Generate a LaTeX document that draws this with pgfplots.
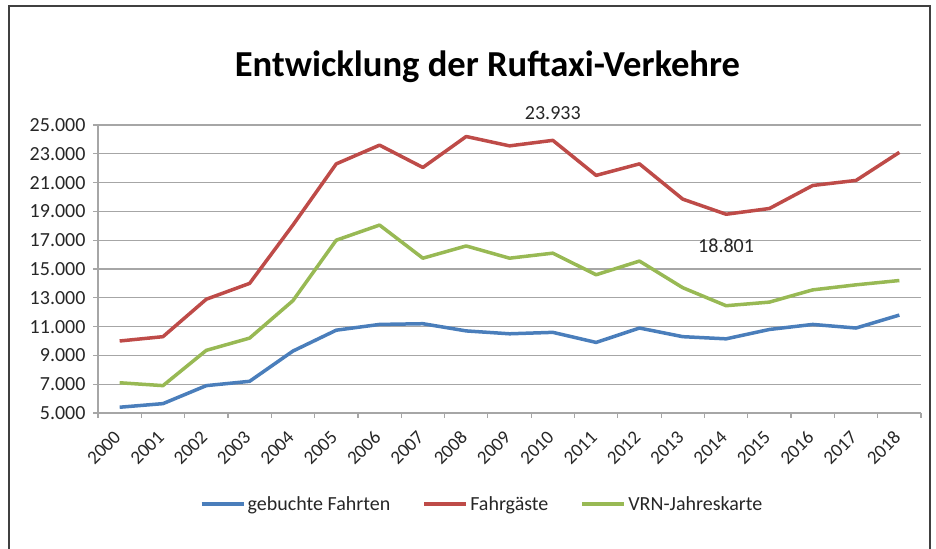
\documentclass[border=0pt]{standalone}
\usepackage{pgfplots}
\pgfplotsset{compat=1.18}
\usepackage{fontspec}
\setmainfont{Carlito}
\definecolor{cblue}{HTML}{4A7EBB}
\definecolor{cred}{HTML}{BE4B48}
\definecolor{cgreen}{HTML}{98B954}
\definecolor{gridc}{HTML}{A6A6A6}
\definecolor{txt}{HTML}{262626}
\begin{document}
\begin{tikzpicture}[x=1bp,y=1bp]
\useasboundingbox (0,0) rectangle (936,549);
\draw[line width=2.2bp, color=black!75] (9,-3) -- (9,543) -- (930,543) -- (930,-3);
\node[anchor=base, font=\fontsize{36.6bp}{40bp}\selectfont\bfseries, text=black] at (487.5,472) {Entwicklung der Ruftaxi-Verkehre};
\begin{axis}[
  at={(98bp,136bp)}, anchor=south west,
  scale only axis, width=823bp, height=288bp,
  xmin=-0.5, xmax=18.5, ymin=5000, ymax=25000,
  scaled y ticks=false,
  axis x line=bottom, axis y line=left,
  axis line style={-, gridc, line width=1.2bp},
  xtick={0,1,...,18},
  xticklabels={2000,2001,2002,2003,2004,2005,2006,2007,2008,2009,2010,2011,2012,2013,2014,2015,2016,2017,2018},
  minor xtick={-0.5,0.5,...,18.5},
  major x tick style={draw=none},
  minor x tick style={gridc, line width=1.2bp},
  y tick style={gridc, line width=1.2bp},
  tick align=outside, major tick length=5bp, minor tick length=5bp,
  ytick={5000,7000,...,25000},
  yticklabels={5.000,7.000,9.000,11.000,13.000,15.000,17.000,19.000,21.000,23.000,25.000},
  ymajorgrids, grid style={gridc, line width=1.2bp},
  tick label style={font=\fontsize{20bp}{24bp}\selectfont, text=txt},
  yticklabel style={xshift=-4bp},
  xticklabel style={font=\fontsize{19bp}{22bp}\selectfont, inner sep=1.5bp, xshift=-1bp, yshift=-15bp, rotate=45, anchor=east},
  legend columns=3,
  legend style={draw=none, fill=none, at={(0.4666,-0.316)}, anchor=center,
    font=\fontsize{20bp}{24bp}\selectfont, text=txt,
    nodes={inner sep=2bp},
    /tikz/every even column/.append style={column sep=30bp}},
  legend image code/.code={\draw[#1, line width=4bp] (0bp,0bp) -- (42bp,0bp);},
  clip=false,
]
\addplot[cblue, line width=3.5bp, line join=round] coordinates {
(0,5400) (1,5650) (2,6900) (3,7200) (4,9300) (5,10750) (6,11150) (7,11200) (8,10700) (9,10500)
(10,10600) (11,9900) (12,10900) (13,10300) (14,10150) (15,10800) (16,11150) (17,10900) (18,11800)};
\addlegendentry{gebuchte Fahrten}
\addplot[cred, line width=3.5bp, line join=round] coordinates {
(0,10000) (1,10300) (2,12900) (3,14000) (4,18050) (5,22300) (6,23600) (7,22050) (8,24200) (9,23550)
(10,23933) (11,21500) (12,22300) (13,19850) (14,18801) (15,19200) (16,20800) (17,21150) (18,23100)};
\addlegendentry{Fahrgäste}
\addplot[cgreen, line width=3.5bp, line join=round] coordinates {
(0,7100) (1,6900) (2,9350) (3,10200) (4,12800) (5,17000) (6,18050) (7,15750) (8,16600) (9,15750)
(10,16100) (11,14600) (12,15550) (13,13700) (14,12450) (15,12700) (16,13550) (17,13900) (18,14200)};
\addlegendentry{VRN-Jahreskarte}
\node[font=\fontsize{20bp}{24bp}\selectfont, text=txt] at (axis cs:10,25833) {23.933};
\node[font=\fontsize{20bp}{24bp}\selectfont, text=txt] at (axis cs:14,16600) {18.801};
\end{axis}
\end{tikzpicture}
\end{document}
